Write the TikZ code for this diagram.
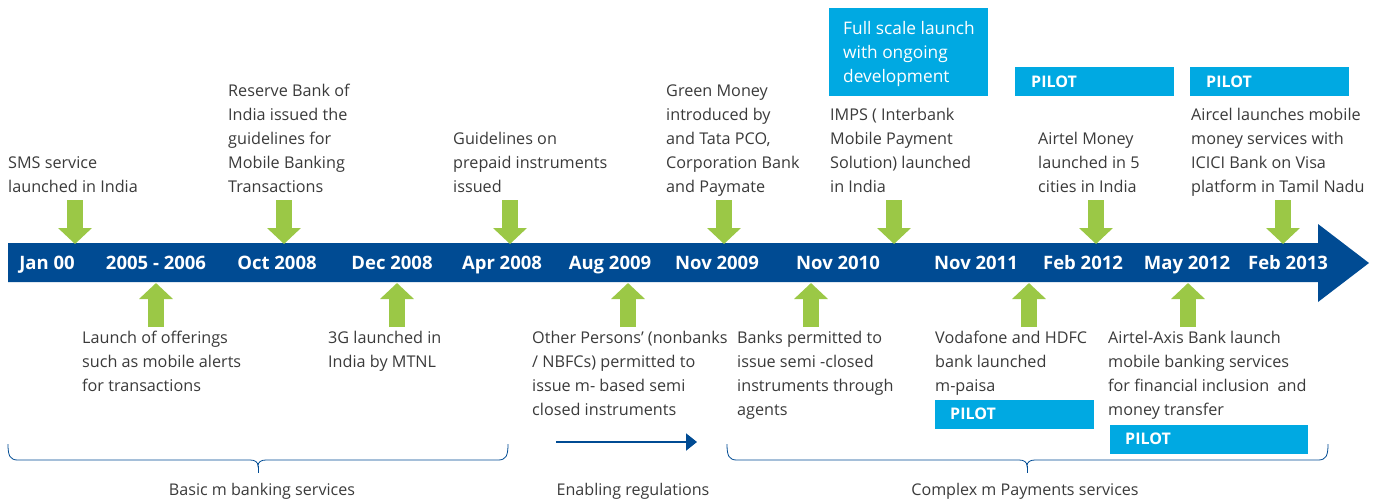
\documentclass[tikz,border=0pt]{standalone}
\usepackage{fontspec}
\setmainfont{Open Sans}
\usetikzlibrary{arrows.meta}
\definecolor{dblue}{HTML}{004B93}
\definecolor{lgreen}{HTML}{9BC846}
\definecolor{lblue}{HTML}{00A9E2}
\definecolor{tgray}{HTML}{3A3A3A}
\newcommand{\tlines}[1]{\begin{tabular}[t]{@{}l@{}}#1\end{tabular}}
\begin{document}
\begin{tikzpicture}[x=1pt,y=-1pt,
  txt/.style={anchor=base west,inner sep=0pt,text=tgray,font=\fontsize{16.2}{24}\selectfont},
  datelbl/.style={anchor=base,inner sep=0pt,text=white,font=\fontsize{18.5}{20}\selectfont\bfseries},
  pilot/.style={anchor=base west,inner sep=0pt,text=white,font=\fontsize{16}{20}\selectfont\bfseries},
  boxtxt/.style={anchor=base west,inner sep=0pt,text=white,font=\fontsize{17.3}{24}\selectfont},
  garrow/.style={draw=lgreen,line width=16pt,line cap=butt,-{Triangle[width=33pt,length=16pt]}},
  bracelne/.style={draw=dblue,line width=0.8pt},
  brlbl/.style={anchor=base,inner sep=0pt,text=tgray,font=\fontsize{16.1}{20}\selectfont}]
\useasboundingbox (0,0) rectangle (1375,499);

% main timeline arrow
\fill[dblue] (8,243) -- (1318,243) -- (1318,224) -- (1369,263) -- (1318,302) -- (1318,282) -- (8,282) -- cycle;

% dates
\node[datelbl] (d1) at (47,269) {Jan 00};
\node[datelbl] (d2) at (156,269) {2005 - 2006};
\node[datelbl] (d3) at (277,269) {Oct 2008};
\node[datelbl] (d4) at (392,269) {Dec 2008};
\node[datelbl] (d5) at (502,269) {Apr 2008};
\node[datelbl] (d6) at (610,269) {Aug 2009};
\node[datelbl] (d7) at (717,269) {Nov 2009};
\node[datelbl] (d8) at (838,269) {Nov 2010};
\node[datelbl] (d9) at (976,269) {Nov 2011};
\node[datelbl] (d10) at (1083,269) {Feb 2012};
\node[datelbl] (d11) at (1187,269) {May 2012};
\node[datelbl] (d12) at (1288,269) {Feb 2013};

% top texts
\node[txt] (t1) at (8,168) {\tlines{SMS service\\launched in India}};
\node[txt] (t2) at (228,96) {\tlines{Reserve Bank of\\India issued the\\guidelines for\\Mobile Banking\\Transactions}};
\node[txt] (t3) at (453,144) {\tlines{Guidelines on\\prepaid instruments\\issued}};
\node[txt] (t4) at (666,96) {\tlines{Green Money\\introduced by\\and Tata PCO,\\Corporation Bank\\and Paymate}};
\node[txt] (t5) at (830,120) {\tlines{IMPS ( Interbank\\Mobile Payment\\Solution) launched\\in India}};
\node[txt] (t6) at (1038,144) {\tlines{Airtel Money\\launched in 5\\cities in India}};
\node[txt] (t7) at (1191,120) {\tlines{Aircel launches mobile\\money services with\\ICICI Bank on Visa\\platform in Tamil Nadu}};

% top boxes
\fill[lblue] (829,8) rectangle (988,96);
\node[boxtxt] (fs) at (843,34) {\tlines{Full scale launch\\with ongoing\\development}};
\fill[lblue] (1015,67) rectangle (1174,96);
\node[pilot] (p1) at (1031,87) {PILOT};
\fill[lblue] (1190,67) rectangle (1349,96);
\node[pilot] (p2) at (1206,87) {PILOT};

% bottom texts
\node[txt] (b1) at (82,343) {\tlines{Launch of offerings\\such as mobile alerts\\for transactions}};
\node[txt] (b2) at (328,343) {\tlines{3G launched in\\India by MTNL}};
\node[txt] (b3) at (532,343) {\tlines{Other Persons’ (nonbanks\\/ NBFCs) permitted to\\issue m- based semi\\closed instruments}};
\node[txt] (b4) at (737,343) {\tlines{Banks permitted to\\issue semi -closed\\instruments through\\agents}};
\node[txt] (b5) at (935,343) {\tlines{Vodafone and HDFC\\bank launched\\m-paisa}};
\node[txt] (b6) at (1108,343) {\tlines{Airtel-Axis Bank launch\\mobile banking services\\for financial inclusion \ and\\money transfer}};

% bottom boxes
\fill[lblue] (935,400) rectangle (1094,429);
\node[pilot] (p3) at (950,419) {PILOT};
\fill[lblue] (1110,425) rectangle (1308,454);
\node[pilot] (p4) at (1125,444) {PILOT};

% green arrows down
\foreach \c in {75,284,510,724,894,1096,1283}
  \draw[garrow] (\c,200) -- (\c,244);
% green arrows up
\foreach \c in {156,397,628,811,1029,1188}
  \draw[garrow] (\c,327) -- (\c,283);

% braces
\draw[bracelne] (8,444) .. controls (8,456) and (10,460) .. (18,460) -- (250,460)
  .. controls (255,460) and (258,462) .. (258,466)
  .. controls (258,462) and (261,460) .. (266,460) -- (498,460)
  .. controls (506,460) and (508,456) .. (508,444);
\draw[bracelne] (258,466) -- (258,473);
\draw[bracelne] (727,444) .. controls (727,456) and (729,460) .. (737,460) -- (1019,460)
  .. controls (1024,460) and (1027,462) .. (1027,466)
  .. controls (1027,462) and (1030,460) .. (1035,460) -- (1318,460)
  .. controls (1326,460) and (1328,456) .. (1328,444);
\draw[bracelne] (1027,466) -- (1027,473);

% enabling regulations arrow
\coordinate (ea) at (556,442);
\coordinate (eb) at (697,442);
\draw[dblue,line width=2pt,-{Triangle[width=17pt,length=11pt]}] (ea) -- (eb);

% brace labels
\node[brlbl] (l1) at (262,495) {Basic m banking services};
\node[brlbl] (l2) at (633,495) {Enabling regulations};
\node[brlbl] (l3) at (1025,495) {Complex m Payments services};
\end{tikzpicture}
\end{document}
